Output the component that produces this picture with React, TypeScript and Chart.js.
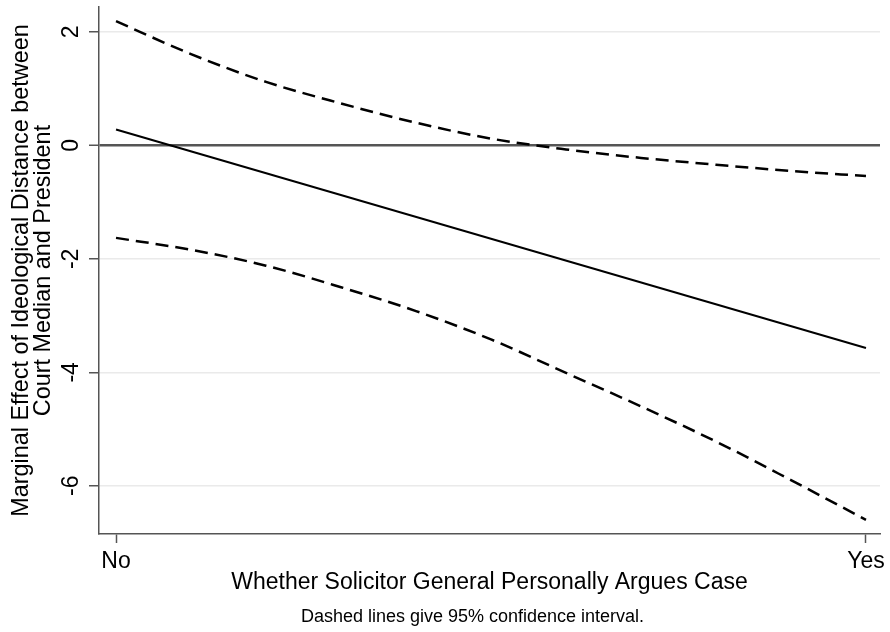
import React, { useEffect, useRef } from 'react';
import { Chart, registerables } from 'chart.js';

Chart.register(...registerables);

// ---- data ----
const sgArgues = [0, 0.1, 0.2, 0.3, 0.4, 0.5, 0.6, 0.7, 0.8, 0.9, 1];
const estimateX = [0, 1];
const estimate = [0.28, -3.57];
const upperCI = [2.19, 1.61, 1.12, 0.74, 0.4, 0.12, -0.07, -0.22, -0.34, -0.45, -0.54];
const lowerCI = [-1.63, -1.84, -2.12, -2.5, -2.92, -3.42, -4.01, -4.6, -5.22, -5.9, -6.6];
const xTickValues = [0, 1];
const xTickLabels = ['No', 'Yes'];
const yTickValues = [-6, -4, -2, 0, 2];
const yTitle = ['Marginal Effect of Ideological Distance between', 'Court Median and President'];
const xTitle = 'Whether Solicitor General Personally Argues Case';
const noteText = 'Dashed lines give 95% confidence interval.';

const FONT = '"Liberation Sans", Arial, Helvetica, sans-serif';

const notePlugin = {
  id: 'notePlugin',
  afterDraw(chart: any) {
    const { ctx } = chart;
    ctx.save();
    ctx.font = `18px ${FONT}`;
    ctx.fillStyle = '#000';
    ctx.textAlign = 'center';
    ctx.textBaseline = 'alphabetic';
    ctx.fillText(noteText, 472.5, 621.7);
    ctx.restore();
  },
};

export default function App() {
  const ref = useRef<HTMLCanvasElement | null>(null);

  useEffect(() => {
    if (!ref.current) return;
    Chart.defaults.font.family = FONT;
    Chart.defaults.color = '#000';
    const chart = new Chart(ref.current, {
      type: 'line',
      data: {
        datasets: [
          {
            label: 'Upper',
            data: sgArgues.map((x, i) => ({ x, y: upperCI[i] })),
            borderColor: '#000',
            borderWidth: 2.5,
            borderDash: [13, 7],
            pointRadius: 0,
            cubicInterpolationMode: 'monotone',
            fill: false,
          },
          {
            label: 'Estimate',
            data: estimateX.map((x, i) => ({ x, y: estimate[i] })),
            borderColor: '#000',
            borderWidth: 2,
            pointRadius: 0,
            fill: false,
          },
          {
            label: 'Lower',
            data: sgArgues.map((x, i) => ({ x, y: lowerCI[i] })),
            borderColor: '#000',
            borderWidth: 2.5,
            borderDash: [13, 7],
            pointRadius: 0,
            cubicInterpolationMode: 'monotone',
            fill: false,
          },
        ],
      },
      options: {
        responsive: false,
        animation: false,
        devicePixelRatio: 1,
        layout: { padding: { top: 7, right: 10, left: 0, bottom: 0 } },
        plugins: {
          legend: { display: false },
          tooltip: { enabled: false },
          title: { display: false },
        },
        scales: {
          x: {
            type: 'linear',
            min: -0.0227,
            max: 1.0187,
            afterBuildTicks: (scale: any) => {
              scale.ticks = xTickValues.map((v) => ({ value: v }));
            },
            afterFit: (scale: any) => {
              scale.height = 98;
              scale.paddingLeft = 0;
              scale.paddingRight = 0;
            },
            ticks: {
              font: { size: 23, lineHeight: 1 },
              padding: 6.8,
              maxRotation: 0,
              minRotation: 0,
              autoSkip: false,
              callback: (v: any) => {
                const i = xTickValues.indexOf(Number(v));
                return i >= 0 ? xTickLabels[i] : '';
              },
            },
            grid: {
              drawOnChartArea: false,
              drawTicks: true,
              tickLength: 9,
              tickColor: '#555',
              tickWidth: 1.5,
            },
            border: { display: true, color: '#555', width: 1.5 },
            title: {
              display: true,
              text: xTitle,
              font: { size: 23, lineHeight: 1.2 },
              padding: { top: 0, bottom: 35.6 },
            },
          },
          y: {
            type: 'linear',
            min: -6.85,
            max: 2.44,
            afterBuildTicks: (scale: any) => {
              scale.ticks = yTickValues.map((v) => ({ value: v }));
            },
            afterFit: (scale: any) => {
              scale.width = 99;
              scale.paddingTop = 0;
              scale.paddingBottom = 0;
            },
            ticks: {
              font: { size: 23, lineHeight: 1 },
              padding: 7,
              minRotation: 90,
              maxRotation: 90,
              crossAlign: 'center',
              autoSkip: false,
              callback: (v: any) => String(v),
            },
            grid: {
              drawOnChartArea: true,
              drawTicks: true,
              tickLength: 10,
              color: (c: any) => (c.tick && c.tick.value === 0 ? '#555' : '#eaeaea'),
              lineWidth: (c: any) => (c.tick && c.tick.value === 0 ? 2.5 : 1.5),
              tickColor: '#555',
              tickWidth: 1.5,
            },
            border: { display: true, color: '#555', width: 1.5 },
            title: {
              display: true,
              text: yTitle,
              font: { size: 23.4, lineHeight: 21.7 / 23.4 },
              padding: { top: 11, bottom: 0 },
            },
          },
        },
      },
      plugins: [notePlugin],
    } as any);
    return () => chart.destroy();
  }, []);

  return (
    <div style={{ position: 'absolute', left: 0, top: 0, width: 890, height: 632, background: '#fff' }}>
      <canvas ref={ref} width={890} height={632} style={{ width: 890, height: 632, display: 'block' }} />
    </div>
  );
}
